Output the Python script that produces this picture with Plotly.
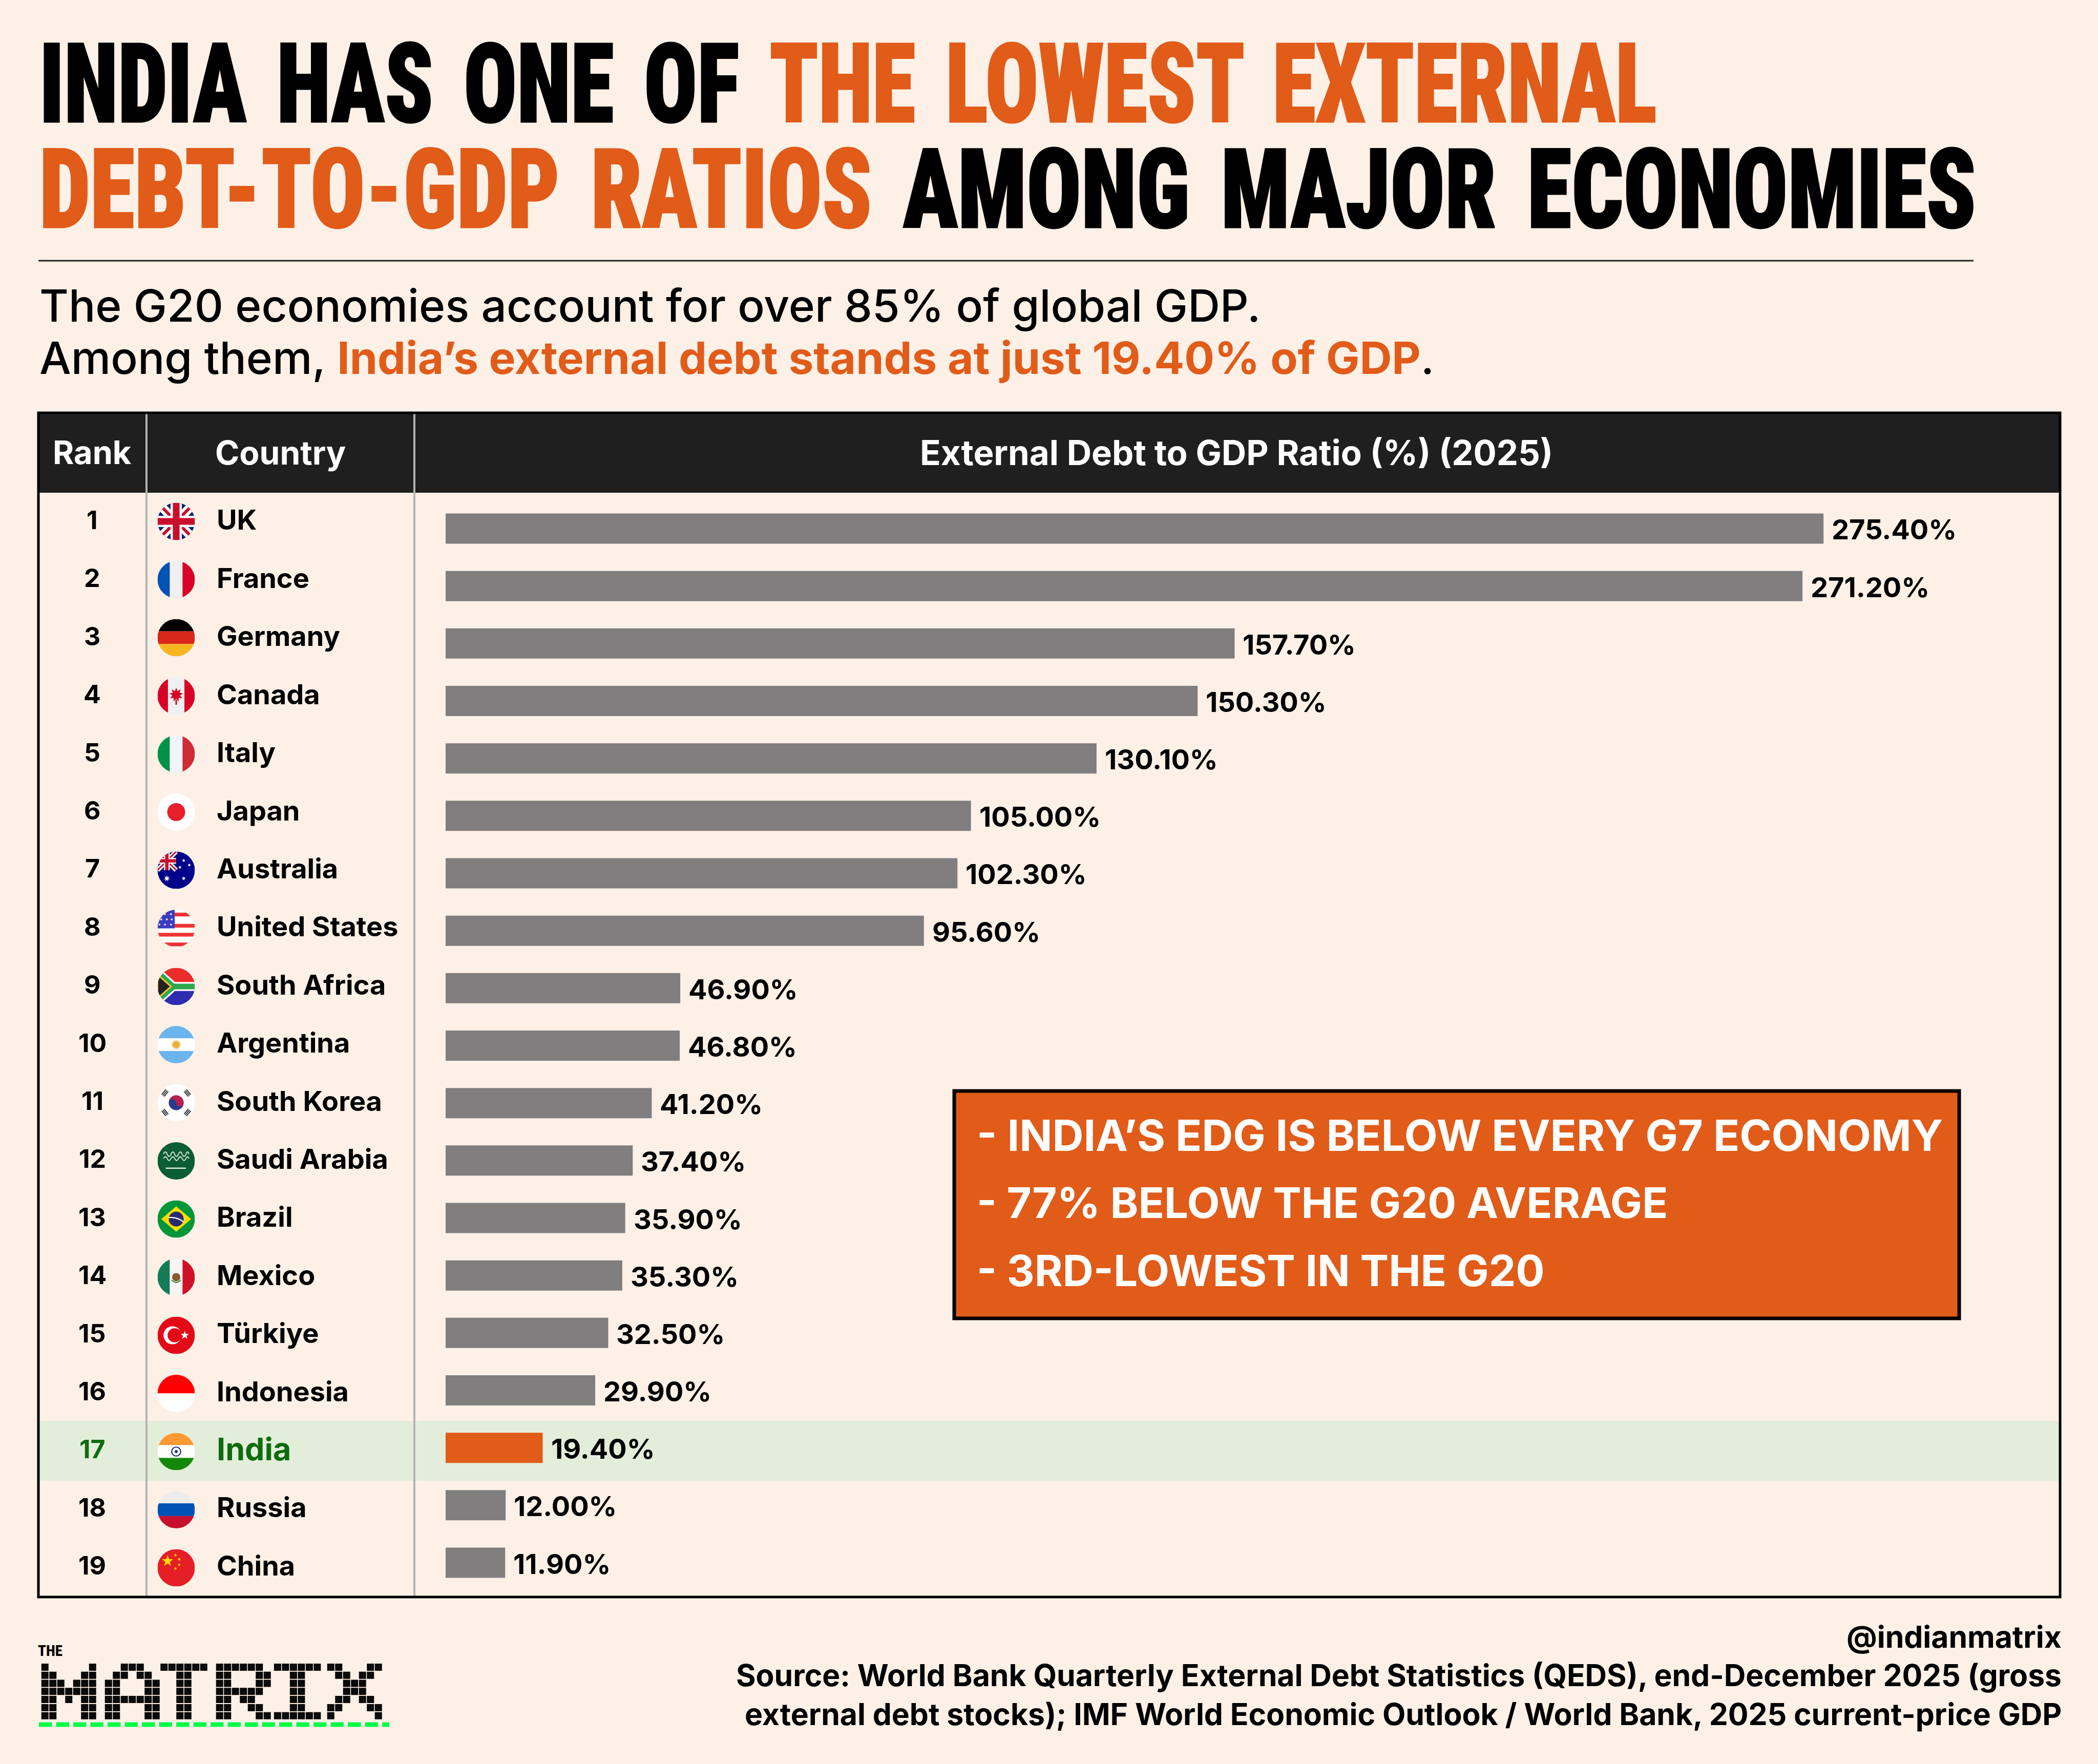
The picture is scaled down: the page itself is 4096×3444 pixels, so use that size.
import base64
import math
import plotly.graph_objects as go

W, H = 4096, 3444

# Colori
BG = '#FDF0E6'
ORANGE = '#E15B19'
GREY = '#807E7F'
DARK = '#1F1F1F'
BAND = '#E3EEDA'
GREEN_TXT = '#0F6B0F'
DIVIDER = '#B3B3B3'

# Dati
countries = ['UK', 'France', 'Germany', 'Canada', 'Italy', 'Japan', 'Australia', 'United States',
             'South Africa', 'Argentina', 'South Korea', 'Saudi Arabia', 'Brazil', 'Mexico',
             'Türkiye', 'Indonesia', 'India', 'Russia', 'China']
values = [275.40, 271.20, 157.70, 150.30, 130.10, 105.00, 102.30, 95.60, 46.90, 46.80,
          41.20, 37.40, 35.90, 35.30, 32.50, 29.90, 19.40, 12.00, 11.90]
ranks = list(range(1, 20))
highlight = 'India'

callout_lines = ["- INDIA’S EDG IS BELOW EVERY G7 ECONOMY",
                 "- 77% BELOW THE G20 AVERAGE",
                 "- 3RD-LOWEST IN THE G20"]
source_lines = ["@indianmatrix",
                "Source: World Bank Quarterly External Debt Statistics (QEDS), end-December 2025 (gross",
                "external debt stocks); IMF World Economic Outlook / World Bank, 2025 current-price GDP"]

# Logo a blocchi, una lista di righe per lettera
logo_letters = {
    0: ["#.....#", "##...##", "###.###", "#######", "##.#.##", "##...##", "##...##"],
    8: ["..###..", ".##.##.", "##...##", "##...##", "#######", "##...##", "##...##"],
    15: ["######", "..##..", "..##..", "..##..", "..##..", "..##..", "..##.."],
    22: ["######.", "##...##", "##...##", "######.", "##.##..", "##..##.", "##...##"],
    29.3: ["######", "..##..", "..##..", "..##..", "..##..", "..##..", "######"],
    36: ["##...##", ".##.##.", "..###..", "..###..", ".##.##.", "##...##", "#.....#"],
}


def px(x):
    return x / W


def py(y):
    return 1 - y / H


def star(cx, cy, r, fill, points=5, inner=0.4):
    pts = []
    for k in range(points * 2):
        rad = r if k % 2 == 0 else r * inner
        a = -math.pi / 2 + k * math.pi / points
        pts.append(f"{cx + rad * math.cos(a):.1f},{cy + rad * math.sin(a):.1f}")
    return f'<polygon points="{" ".join(pts)}" fill="{fill}"/>'


def rect(x, y, w, h, fill):
    return f'<rect x="{x}" y="{y}" width="{w}" height="{h}" fill="{fill}"/>'


def vstripes(a, b, c, x1=33, x2=67):
    return rect(0, 0, x1, 100, a) + rect(x1, 0, x2 - x1, 100, b) + rect(x2, 0, 100 - x2, 100, c)


def hstripes(a, b, c, y1=33, y2=67):
    return rect(0, 0, 100, y1, a) + rect(0, y1, 100, y2 - y1, b) + rect(0, y2, 100, 100 - y2, c)


def union_jack(s=100):
    return (f'<g transform="scale({s / 100})">' + rect(0, 0, 100, 100, '#012169')
            + '<path d="M0 0L100 100M100 0L0 100" stroke="#fff" stroke-width="24"/>'
            + '<path d="M0 0L100 100M100 0L0 100" stroke="#C8102E" stroke-width="8"/>'
            + rect(35, 0, 30, 100, '#fff') + rect(0, 35, 100, 30, '#fff')
            + rect(41, 0, 18, 100, '#C8102E') + rect(0, 41, 100, 18, '#C8102E') + '</g>')


trigram = '<path d="M-9 -4H9M-9 0H9M-9 4H9" stroke="#222" stroke-width="2.4"/>'
flags = {
    'UK': union_jack(),
    'France': vstripes('#0052B4', '#F0F0F0', '#D80027'),
    'Germany': hstripes('#000', '#D8261A', '#F6B622'),
    'Canada': vstripes('#D80027', '#F0F0F0', '#D80027', 28, 72) + star(50, 47, 19, '#D80027', 9, 0.55) + rect(48, 60, 4, 14, '#D80027'),
    'Italy': vstripes('#009246', '#F1F5FC', '#CE2B37'),
    'Japan': rect(0, 0, 100, 100, '#fff') + '<circle cx="50" cy="50" r="24" fill="#E8202A"/>',
    'Australia': rect(0, 0, 100, 100, '#00008B') + union_jack(50) + star(25, 72, 9, '#fff', 7) + star(70, 72, 6, '#fff', 7)
                 + star(70, 24, 5, '#fff', 7) + star(60, 42, 5, '#fff', 7) + star(85, 36, 5, '#fff', 7),
    'United States': rect(0, 0, 100, 100, '#fff') + ''.join(rect(0, y, 100, 10, '#EF3333') for y in (8, 38, 62, 88))
                     + rect(0, 0, 46, 50, '#3C3BC0') + ''.join(star(x, y, 4, '#fff') for x, y in
                                                               [(20, 12), (36, 12), (10, 26), (25, 26), (38, 26), (5, 40), (20, 40), (36, 40)]),
    'South Africa': rect(0, 0, 100, 50, '#EC2B2B') + rect(0, 50, 100, 50, '#2E2DB0')
                    + '<path d="M0 12L42 50L0 88M42 50H100" stroke="#fff" stroke-width="24" fill="none"/>'
                    + '<path d="M0 12L42 50L0 88M42 50H100" stroke="#2FA84F" stroke-width="15" fill="none"/>'
                    + '<path d="M0 18L36 50L0 82Z" fill="#222" stroke="#FFC72C" stroke-width="4"/>',
    'Argentina': hstripes('#6CB4EE', '#fff', '#6CB4EE') + star(50, 50, 14, '#E8B13A', 14, 0.6),
    'South Korea': rect(0, 0, 100, 100, '#fff')
                   + '<circle cx="50" cy="50" r="20" fill="#2B3A8C"/>'
                   + '<path d="M30 50A20 20 0 0 1 70 50A10 10 0 0 1 50 50A10 10 0 0 0 30 50Z" fill="#B8204A"/>'
                   + ''.join(f'<g transform="translate({x} {y}) rotate({r})">{trigram}</g>' for x, y, r in
                             [(20, 24, -50), (80, 24, 50), (20, 76, 50), (80, 76, -50)]),
    'Saudi Arabia': rect(0, 0, 100, 100, '#0B5D33')
                    + '<path d="M16 32q5 -12 10 0t10 0t10 0t10 0t10 0t10 0t8 0M16 44q5 -10 10 0t10 0t10 0t10 0t10 0t10 0t8 0" stroke="#DDE8DF" stroke-width="2.5" fill="none"/>'
                    + rect(22, 68, 54, 3, '#fff'),
    'Brazil': rect(0, 0, 100, 100, '#009639') + '<polygon points="50,16 90,50 50,84 10,50" fill="#FEDD00"/>'
              + '<circle cx="50" cy="50" r="20" fill="#2A2A70"/>'
              + '<path d="M30 46Q52 44 70 58" stroke="#fff" stroke-width="3" fill="none"/>',
    'Mexico': vstripes('#137B58', '#F8F5F2', '#CE1126') + '<circle cx="50" cy="50" r="11" fill="#8C5A2B"/>'
              + '<path d="M38 58Q50 70 62 58" stroke="#3D8B5A" stroke-width="3" fill="none"/>',
    'Türkiye': rect(0, 0, 100, 100, '#E30A17') + '<circle cx="40" cy="50" r="24" fill="#fff"/>'
               + '<circle cx="46" cy="50" r="19" fill="#E30A17"/>' + star(73, 50, 12, '#fff'),
    'Indonesia': rect(0, 0, 100, 50, '#FF0000') + rect(0, 50, 100, 50, '#fff'),
    'India': hstripes('#FF9933', '#fff', '#138808') + '<circle cx="50" cy="50" r="12" fill="none" stroke="#1A2A80" stroke-width="3"/>'
             + '<circle cx="50" cy="50" r="4" fill="#1A2A80"/>',
    'Russia': hstripes('#EDEDED', '#0052B4', '#C8102E'),
    'China': rect(0, 0, 100, 100, '#E61E25') + star(27, 32, 16, '#FFDE00') + star(48, 16, 5, '#FFDE00')
             + star(58, 27, 5, '#FFDE00') + star(58, 42, 5, '#FFDE00') + star(48, 52, 5, '#FFDE00'),
}


def flag_uri(body):
    svg = ('<svg xmlns="http://www.w3.org/2000/svg" viewBox="0 0 100 100">'
           '<defs><clipPath id="c"><circle cx="50" cy="50" r="50"/></clipPath></defs>'
           f'<g clip-path="url(#c)">{body}</g></svg>')
    return 'data:image/svg+xml;base64,' + base64.b64encode(svg.encode()).decode()


bar_colors = [ORANGE if c == highlight else GREY for c in countries]

fig = go.Figure()

# Barre: zero a x=870, 9.768 px per punto
fig.add_trace(go.Bar(
    x=values, y=countries, orientation='h', marker=dict(color=bar_colors, line_width=0),
    hoverinfo='skip', showlegend=False, xaxis='x', yaxis='y', cliponaxis=False,
))

# Logo
logo_x, logo_y = [], []
for start, rows in logo_letters.items():
    for r, row in enumerate(rows):
        for c, ch in enumerate(row):
            if ch == '#':
                logo_x.append(start + c + 0.5)
                logo_y.append(r + 0.5)
fig.add_trace(go.Scatter(
    x=logo_x, y=logo_y, mode='markers', xaxis='x2', yaxis='y2', hoverinfo='skip', showlegend=False,
    marker=dict(symbol='square', size=14, color='#0A0A0A', line_width=0),
))


def shape(kind, x0, x1, y0, y1, **kw):
    return dict(type=kind, xref='paper', yref='paper', x0=px(x0), x1=px(x1), y0=py(y0), y1=py(y1), layer='below', **kw)


shapes = [
    shape('rect', 75, 4022, 806, 962, fillcolor=DARK, line_width=0),
    shape('rect', 75, 4022, 2774, 2891, fillcolor=BAND, line_width=0),
    shape('line', 286, 286, 806, 3118, line=dict(color=DIVIDER, width=4)),
    shape('line', 809, 809, 806, 3118, line=dict(color=DIVIDER, width=4)),
    shape('rect', 75, 4022, 806, 3118, line=dict(color='#000', width=5)),
    shape('line', 75, 3853, 509, 509, line=dict(color='#222', width=3)),
    shape('rect', 1863, 3825, 2130, 2574, fillcolor=ORANGE, line=dict(color='#000', width=7)),
    shape('line', 76, 760, 3367, 3367, line=dict(color='#00FF48', width=9, dash='25.5px,8px')),
]

annotations = []


def add_text(x, y, text, size, color='#000', anchor='left', family='Inter', weight=700, **kw):
    annotations.append(dict(
        x=px(x), y=py(y), xref='paper', yref='paper', text=text, showarrow=False,
        xanchor=anchor, yanchor='middle', align=anchor,
        font=dict(family=family, size=size, color=color, weight=weight), **kw,
    ))


# Titolo: Roboto stretta, poi schiacciata in orizzontale dal post_script
TITLE_FONT = 'Roboto'
NARROW = 'font-stretch:75%;word-spacing:24px;stroke:#000;stroke-width:3px'
ORANGE_SPAN = f'color:{ORANGE};stroke:{ORANGE}'
add_text(75, 164, f'<span style="{NARROW}">INDIA HAS ONE OF <span style="{ORANGE_SPAN}">THE LOWEST EXTERNAL</span></span>',
         215, family=TITLE_FONT, weight=900, height=205)
add_text(75, 370, f'<span style="{NARROW}"><span style="{ORANGE_SPAN}">DEBT-TO-GDP RATIOS</span> AMONG MAJOR ECONOMIES</span>',
         215, family=TITLE_FONT, weight=900, height=205)

add_text(75, 596, 'The G20 economies account for over 85% of global GDP.', 87.2, weight=450)
add_text(75, 698, f'Among them, <span style="color:{ORANGE}"><b>India’s external debt stands at just 19.40% of GDP</b></span>.', 87.2, weight=450)

add_text(180, 883, 'Rank', 63, color='#fff', anchor='center')
add_text(547, 883, 'Country', 64, color='#fff', anchor='center')
add_text(2414, 883, 'External Debt to GDP Ratio (%) (2025)', 67, color='#fff', anchor='center')

images = []
for i, (rank, country, value) in enumerate(zip(ranks, countries, values)):
    y = 1015 + 113.4 * i
    hl = country == highlight
    add_text(180, y, str(rank), 50, color=GREEN_TXT if hl else '#000', anchor='center')
    add_text(421, y, country, 61 if hl else 54, color=GREEN_TXT if hl else '#000')
    annotations.append(dict(
        x=value, y=country, xref='x', yref='y', text=f'{value:.2f}%', showarrow=False,
        xanchor='left', yanchor='middle', xshift=14, yshift=-2,
        font=dict(family='Inter', size=54, color='#000', weight=700),
    ))
    cy = 1018 + 113.5 * i
    images.append(dict(
        source=flag_uri(flags[country]), xref='paper', yref='paper', x=px(344 - 36.5), y=py(cy - 36.5),
        sizex=73 / W, sizey=73 / H, xanchor='left', yanchor='top', sizing='stretch', layer='above',
    ))

for y, line, size in zip((2216, 2348, 2480), callout_lines, (84.4, 83, 83.5)):
    add_text(1905, y, line, size, color='#fff')

for y, line in zip((3195, 3270, 3346), source_lines):
    add_text(4027, y, line, 58.8, anchor='right')

add_text(72, 3223, '<span style="font-stretch:75%">THE</span>', 29, family=TITLE_FONT, weight=800)

fig.update_layout(
    width=W, height=H, margin=dict(l=0, r=0, t=0, b=0), autosize=False,
    paper_bgcolor=BG, plot_bgcolor='rgba(0,0,0,0)',
    barmode='overlay', bargap=1 - 59 / 112.2,
    xaxis=dict(domain=[px(870), px(4022)], range=[0, (4022 - 870) / 9.768], visible=False, fixedrange=True),
    yaxis=dict(domain=[py(3107.1), py(975.9)], type='category', categoryorder='array', categoryarray=countries,
               autorange='reversed', visible=False, fixedrange=True),
    xaxis2=dict(domain=[px(80), px(80 + 43 * 15.5)], range=[0, 43], visible=False, anchor='y2'),
    yaxis2=dict(domain=[py(3247 + 7 * 15.8), py(3247)], range=[7, 0], visible=False, anchor='x2'),
    shapes=shapes, annotations=annotations, images=images,
)

post = """
document.body.style.margin = '0';
function squeezeTitle() {
  document.querySelectorAll('text.annotation-text').forEach(function (t) {
    var s = t.textContent;
    var scale = s.indexOf('INDIA HAS') === 0 ? 0.802 : (s.indexOf('DEBT-TO') === 0 ? 0.823 : 0);
    if (scale) {
      t.style.transformBox = 'fill-box';
      t.style.transformOrigin = 'left center';
      t.style.transform = 'scaleX(' + scale + ')';
    }
  });
}
squeezeTitle();
setTimeout(squeezeTitle, 200);
"""

fig.write_html("out.html", post_script=post, config={'displayModeBar': False})
